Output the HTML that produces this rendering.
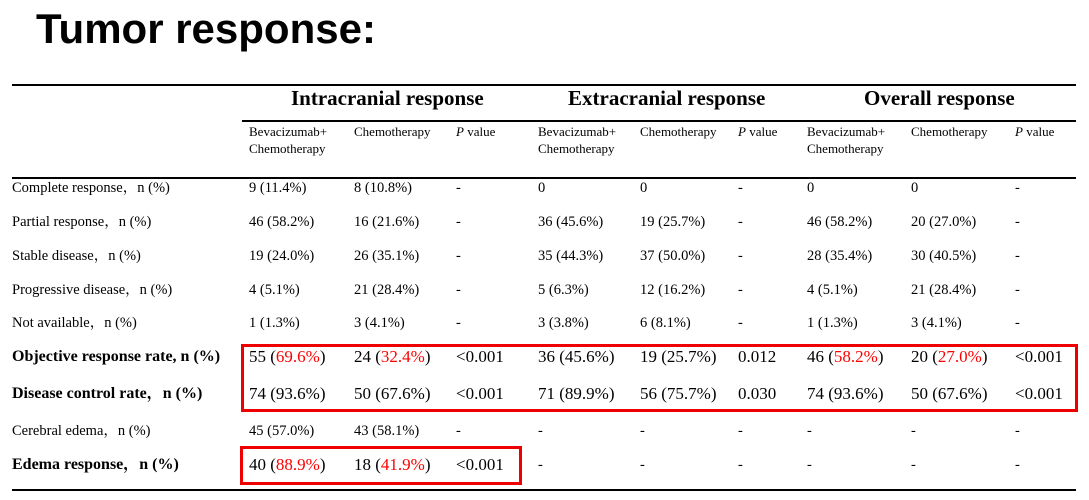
<!DOCTYPE html>
<html><head><meta charset="utf-8"><style>
body{margin:0;width:1089px;height:500px;background:#fff;position:relative;overflow:hidden;font-family:"Liberation Serif","Noto Serif CJK SC",serif;color:#000}
.a{position:absolute;white-space:nowrap}
.t{font-family:"Liberation Sans",sans-serif;font-weight:bold;font-size:42px;left:36px;top:5px}
.rule{position:absolute;background:#000}
.g{font-weight:bold;font-size:21px;top:86px}
.h{font-size:13px;line-height:17px;top:123px}
.c{font-size:14.5px;line-height:18px;height:18px}
.b{font-size:17px;line-height:18px;height:18px}
.bl{font-weight:bold;font-size:16px;line-height:18px;height:18px}
.r{color:#f00}
.box{position:absolute;border:3px solid #e00;box-sizing:border-box}
</style></head><body>
<div class="a t">Tumor response:</div>
<div class="rule" style="left:12px;top:84px;width:1064px;height:2px"></div>
<div class="rule" style="left:242px;top:120px;width:834px;height:2px"></div>
<div class="rule" style="left:12px;top:177px;width:1064px;height:2px"></div>
<div class="rule" style="left:12px;top:489px;width:1064px;height:2px"></div>
<div class="a g" style="left:291px">Intracranial response</div>
<div class="a g" style="left:568px">Extracranial response</div>
<div class="a g" style="left:864px">Overall response</div>
<div id="hdr"></div>
<div id="rows"></div>
<div class="box" style="left:241px;top:344px;width:837px;height:68px"></div>
<div class="box" style="left:240px;top:446px;width:282px;height:39px"></div>
<script>
const colX=[249,354,456,538,640,738,807,911,1015];
const heads=["Bevacizumab+<br>Chemotherapy","Chemotherapy","<i>P</i> value"];
const labels=["Complete response，n (%)","Partial response，n (%)","Stable disease，n (%)","Progressive disease，n (%)","Not available，n (%)","Objective response rate, n (%)","Disease control rate，n (%)","Cerebral edema，n (%)","Edema response，n (%)"];
const rowC=[188,222,256,290,323,357,394,431,465];
const bold=[0,0,0,0,0,1,1,0,1];
const big=[0,0,0,0,0,1,1,0,1];
const vals=[
["9 (11.4%)","8 (10.8%)","-","0","0","-","0","0","-"],
["46 (58.2%)","16 (21.6%)","-","36 (45.6%)","19 (25.7%)","-","46 (58.2%)","20 (27.0%)","-"],
["19 (24.0%)","26 (35.1%)","-","35 (44.3%)","37 (50.0%)","-","28 (35.4%)","30 (40.5%)","-"],
["4 (5.1%)","21 (28.4%)","-","5 (6.3%)","12 (16.2%)","-","4 (5.1%)","21 (28.4%)","-"],
["1 (1.3%)","3 (4.1%)","-","3 (3.8%)","6 (8.1%)","-","1 (1.3%)","3 (4.1%)","-"],
["55 (<span class=r>69.6%</span>)","24 (<span class=r>32.4%</span>)","&lt;0.001","36 (45.6%)","19 (25.7%)","0.012","46 (<span class=r>58.2%</span>)","20 (<span class=r>27.0%</span>)","&lt;0.001"],
["74 (93.6%)","50 (67.6%)","&lt;0.001","71 (89.9%)","56 (75.7%)","0.030","74 (93.6%)","50 (67.6%)","&lt;0.001"],
["45 (57.0%)","43 (58.1%)","-","-","-","-","-","-","-"],
["40 (<span class=r>88.9%</span>)","18 (<span class=r>41.9%</span>)","&lt;0.001","-","-","-","-","-","-"]];
const hdr=document.getElementById('hdr');
colX.forEach((x,i)=>{const d=document.createElement('div');d.className='a h';d.style.left=x+'px';d.innerHTML=heads[i%3];


hdr.appendChild(d);});
const rows=document.getElementById('rows');
labels.forEach((l,r)=>{const d=document.createElement('div');d.className='a '+(bold[r]?'bl':'c');d.style.left='12px';d.style.top=(rowC[r]-9)+'px';d.innerHTML=l;


rows.appendChild(d);
vals[r].forEach((v,i)=>{const c=document.createElement('div');c.className='a '+(big[r]&&!(r==8&&i>2)?'b':'c');c.style.left=(colX[i])+'px';c.style.top=(rowC[r]-9)+'px';c.innerHTML=v;


rows.appendChild(c);});});
</script>
</body></html>
